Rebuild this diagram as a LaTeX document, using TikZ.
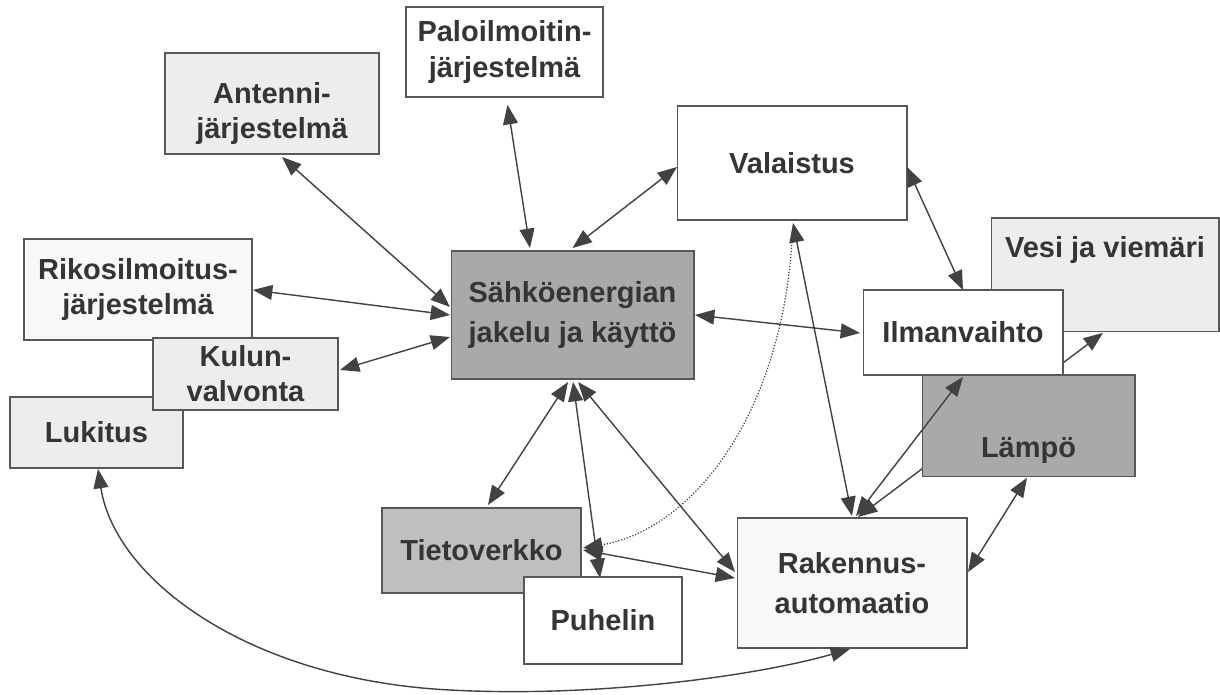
\documentclass[tikz,border=0pt]{standalone}
\usepackage{fontspec}
\newfontfamily\lab{Liberation Sans}
\usetikzlibrary{arrows.meta,calc}
\definecolor{txt}{HTML}{353535}
\definecolor{ln}{HTML}{424242}
\definecolor{bd}{HTML}{585858}
\definecolor{light}{HTML}{EDEDED}
\definecolor{pale}{HTML}{F8F8F8}
\definecolor{dark}{HTML}{A9A9A9}
\definecolor{mid}{HTML}{BFBFBF}
\pgfdeclarelayer{bg}
\pgfsetlayers{bg,main}
\begin{document}
\begin{tikzpicture}[x=0.02cm,y=-0.02cm,
  >={Triangle[length=11pt,width=8.5pt]},
  box/.style={draw=bd, line width=0.6pt, text=txt, align=center, inner sep=0pt, outer sep=0pt,
    font=\lab\bfseries\fontsize{16.5}{20}\selectfont},
  link/.style={draw=ln, line width=0.8pt, <->},
  dotlink/.style={draw=ln, line width=0.7pt, densely dotted, ->}]
\begin{pgfonlayer}{bg}
\fill[white] (0,0) rectangle (1220,695);
\end{pgfonlayer}
\useasboundingbox (0,0) rectangle (1220,695);

% nodes
\node[box, fill=white, minimum width=3.94cm, minimum height=1.8cm] (palo) at (504.5,52) {Paloilmoitin-\\järjestelmä};
\node[box, fill=light, minimum width=4.28cm, minimum height=2.02cm] (ant) at (272,103.5) {\rule{0pt}{23pt}Antenni-\\järjestelmä};
\node[box, fill=white, minimum width=4.6cm, minimum height=2.28cm] (val) at (792,163) {Valaistus};
\node[box, fill=pale, minimum width=4.56cm, minimum height=2.02cm] (rik) at (138,289.5) {Rikosilmoitus-\\järjestelmä};
\node[box, fill=light, minimum width=3.46cm, minimum height=1.42cm] (luk) at (96.5,432.5) {Lukitus};
\node[box, fill=light, minimum width=3.7cm, minimum height=1.44cm] (kul) at (245.5,374) {Kulun-\\valvonta};
\node[box, fill=dark, minimum width=4.86cm, minimum height=2.56cm] (sahko) at (572.5,315) {Sähköenergian\\[3pt]jakelu ja käyttö};
\node[box, fill=light, anchor=north, minimum width=4.56cm, text height=22.7pt, text depth=42pt] (vesi) at (1105,218) {Vesi ja viemäri};
\node[box, fill=dark, anchor=north, minimum width=4.26cm, text height=47pt, text depth=10.8pt] (lampo) at (1028.5,375) {Lämpö};
\node[box, fill=white, minimum width=4cm, minimum height=1.7cm] (ilm) at (963,332.5) {Ilmanvaihto};
\node[box, fill=mid, minimum width=3.98cm, minimum height=1.7cm] (tieto) at (481.5,550.5) {Tietoverkko};
\node[box, fill=white, minimum width=3.16cm, minimum height=1.74cm] (puh) at (603,620.5) {Puhelin};
\node[box, fill=pale, minimum width=4.6cm, minimum height=2.6cm] (rak) at (852,583) {Rakennus-\\[3pt]automaatio};

% connector hidden under Lämpö and Ilmanvaihto
\begin{pgfonlayer}{bg}
\draw[link] ($(rak)+(6,-66)$) -- ($(vesi)+(-2,58)$);
\end{pgfonlayer}

% connectors
\draw[link] ($(palo)+(3,53)$) -- ($(sahko)+(-42.5,-67)$);
\draw[link] ($(ant)+(10,53.5)$) -- ($(sahko)+(-122.5,-8)$);
\draw[link] ($(val)+(-115,4)$) -- ($(sahko)+(0,-67)$);
\draw[link] ($(rik)+(115,0.5)$) -- ($(sahko)+(-122.5,0)$);
\draw[link] ($(kul)+(94.5,-4)$) -- ($(sahko)+(-122.5,22)$);
\draw[link] ($(sahko)+(122.5,0)$) -- ($(ilm)+(-103,0.5)$);
\draw[link] ($(val)+(115,4)$) -- ($(ilm)+(0,-42.5)$);
\draw[link] ($(val)+(1,60)$) -- ($(rak)+(0,-67)$);
\draw[dotlink] ($(val)+(0,79)$) .. controls (780,420) and (690,530) .. ($(tieto)+(101.5,-2.5)$);
\draw[link] ($(sahko)+(-4.5,67)$) -- ($(tieto)+(6.5,-45.5)$);
\draw[link] ($(sahko)+(0.5,67)$) -- ($(puh)+(-3,-42.5)$);
\draw[link] ($(sahko)+(5.5,67)$) -- ($(rak)+(-117,-11)$);
\draw[link] ($(tieto)+(101.5,-0.5)$) -- ($(rak)+(-117,-5)$);
\draw[link] ($(ilm)+(0,44.5)$) -- ($(rak)+(4,-67)$);
\draw[link] ($(rak)+(116,-11)$) -- ($(lampo)+(-1.5,52)$);
\draw[link] ($(luk)+(1.5,36.5)$) .. controls (115,580) and (250,680) .. (450,690)
  .. controls (600,698) and (760,675) .. ($(rak)+(-2,66)$);
\end{tikzpicture}
\end{document}
